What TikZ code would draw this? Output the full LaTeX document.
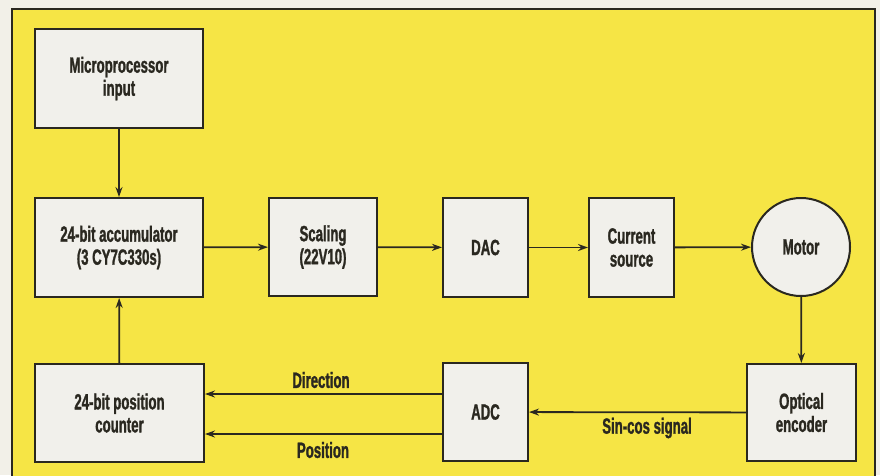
\documentclass[tikz,border=0pt]{standalone}
\usepackage{fontspec}
\setmainfont{Liberation Sans}[FakeStretch=0.60, BoldFeatures={FakeBold=1.2}]
\usetikzlibrary{arrows.meta}
\definecolor{bgyellow}{HTML}{F6E545}
\definecolor{paper}{HTML}{F2F0E8}
\definecolor{boxfill}{HTML}{F1F0EB}
\definecolor{ink}{HTML}{2A2820}
\tikzset{
  blk/.style={draw=ink, line width=2pt, fill=boxfill, inner sep=0pt, align=center,
    font=\fontsize{22}{23}\selectfont\bfseries, text=ink},
  conn/.style={draw=ink, line width=1.8pt, -{Stealth[length=10pt,width=7pt]}},
  lbl/.style={font=\fontsize{22}{23}\selectfont\bfseries, text=ink, inner sep=0pt}
}
\begin{document}
\begin{tikzpicture}[x=1pt,y=-1pt]
\useasboundingbox (0,0) rectangle (880,475);
\fill[paper] (0,0) rectangle (880,475);
\fill[bgyellow] (12,9) rectangle (875,480);
\draw[ink, line width=2.2pt] (12,480) -- (12,9) -- (875,9) -- (875,480);
% blocks
\node[blk, minimum width=168pt, minimum height=99pt] (mp) at (119,78.5) {Microprocessor\\input};
\node[blk, minimum width=168pt, minimum height=99pt] (acc) at (119,247.5) {24-bit accumulator\\(3 CY7C330s)};
\node[blk, minimum width=108pt, minimum height=98pt] (sc) at (323,247) {Scaling\\(22V10)};
\node[blk, minimum width=85pt, minimum height=99pt] (dac) at (485.5,247.5) {DAC};
\node[blk, minimum width=85pt, minimum height=99pt] (cs) at (631.5,247.5) {Current\\source};
\node[blk, circle, minimum size=98pt] (mot) at (801,247) {Motor};
\node[blk, minimum width=109pt, minimum height=97pt] (oe) at (801.5,412.5) {Optical\\encoder};
\node[blk, minimum width=85pt, minimum height=98pt] (adc) at (485.5,412) {ADC};
\node[blk, minimum width=169pt, minimum height=98pt] (pc) at (119.5,413) {24-bit position\\counter};
% connectors
\draw[conn] (mp) -- (acc);
\draw[conn] (pc) -- (acc);
\draw[conn] (acc) -- (sc);
\draw[conn] (sc) -- (dac);
\draw[conn] (dac) -- (cs);
\draw[conn] (cs) -- (mot);
\draw[conn] (mot) -- (oe);
\draw[conn] (oe) -- (adc);
\draw[conn] (adc.west |- 0,394) -- (pc.east |- 0,394);
\draw[conn] (adc.west |- 0,434) -- (pc.east |- 0,434);
% labels
\node[lbl] (ldir) at (321,380) {Direction};
\node[lbl] (lpos) at (323,450) {Position};
\node[lbl] (lsc) at (647,428) {Sin-cos signal};
\end{tikzpicture}
\end{document}
